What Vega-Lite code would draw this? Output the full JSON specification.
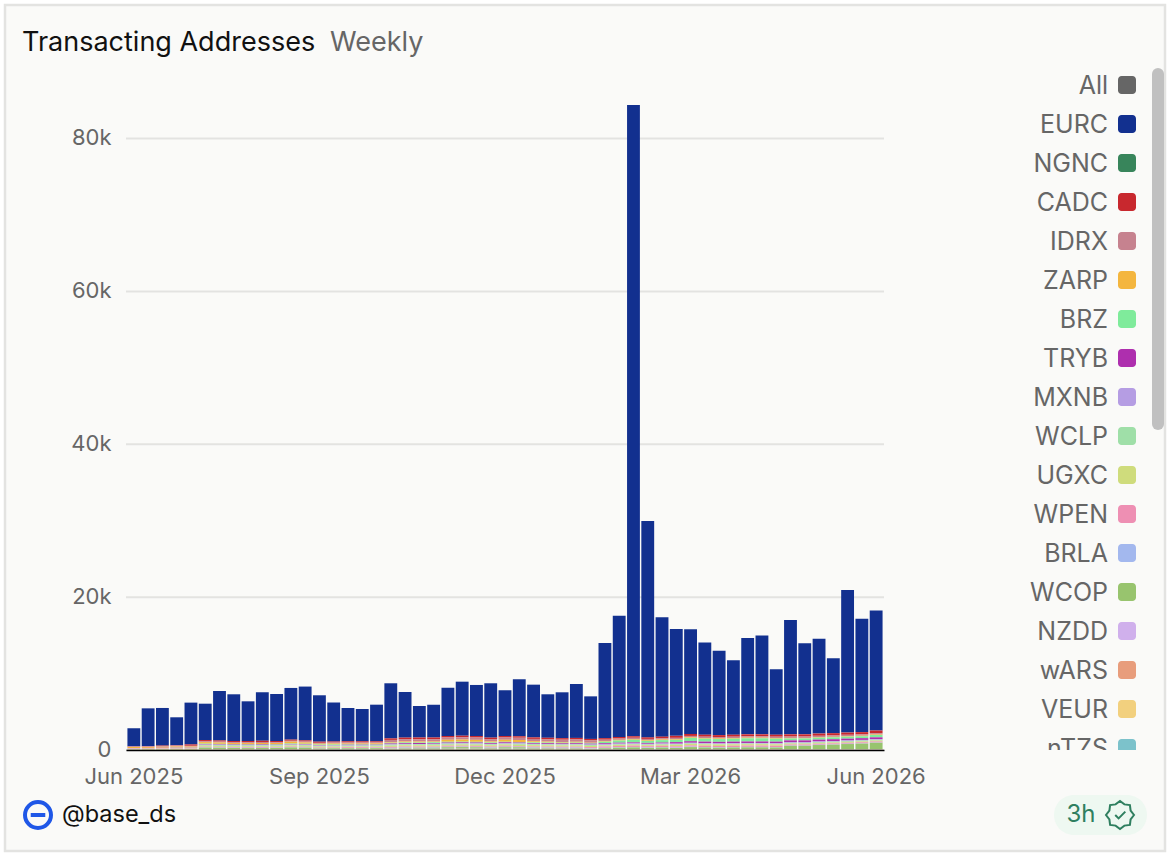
{
  "$schema": "https://vega.github.io/schema/vega-lite/v6.json",
  "background": "#ffffff",
  "padding": 5,
  "autosize": {"type": "none"},
  "width": 1160,
  "height": 846,
  "view": {"fill": "#fafaf8", "stroke": "#e3e3e1", "strokeWidth": 2.5},
  "datasets": {
    "weeks": [
      {"w":"2025-06-02","EURC":2340,"CADC":40,"IDRX":80,"ZARP":110,"TRYB":20,"MXNB":20,"WCLP":20,"UGXC":30,"WPEN":50,"BRLA":10,"WCOP":70,"NZDD":10,"wARS":10,"VEUR":30},
      {"w":"2025-06-09","EURC":4930,"CADC":50,"IDRX":90,"ZARP":110,"TRYB":20,"MXNB":20,"WCLP":20,"UGXC":30,"WPEN":50,"BRLA":10,"WCOP":70,"NZDD":10,"wARS":10,"VEUR":30},
      {"w":"2025-06-16","EURC":4920,"CADC":60,"IDRX":100,"ZARP":120,"TRYB":30,"MXNB":20,"WCLP":30,"UGXC":30,"WPEN":60,"BRLA":10,"WCOP":70,"NZDD":10,"wARS":10,"VEUR":30},
      {"w":"2025-06-23","EURC":3650,"CADC":60,"IDRX":110,"ZARP":130,"TRYB":30,"MXNB":20,"WCLP":30,"UGXC":40,"WPEN":60,"BRLA":10,"WCOP":80,"NZDD":10,"wARS":10,"VEUR":40},
      {"w":"2025-06-30","EURC":5470,"CADC":180,"IDRX":100,"ZARP":120,"TRYB":30,"MXNB":20,"WCLP":30,"UGXC":40,"WPEN":60,"BRLA":10,"WCOP":80,"NZDD":10,"wARS":10,"VEUR":40},
      {"w":"2025-07-07","EURC":4760,"CADC":150,"IDRX":120,"ZARP":200,"BRZ":60,"TRYB":60,"MXNB":50,"WCLP":100,"UGXC":120,"WPEN":80,"BRLA":40,"WCOP":190,"NZDD":30,"wARS":30,"VEUR":50,"nTZS":20},
      {"w":"2025-07-14","EURC":6470,"CADC":150,"IDRX":120,"ZARP":175,"BRZ":60,"TRYB":60,"MXNB":50,"WCLP":100,"UGXC":120,"WPEN":80,"BRLA":40,"WCOP":165,"NZDD":30,"wARS":30,"VEUR":50,"nTZS":20},
      {"w":"2025-07-21","EURC":6110,"CADC":150,"IDRX":120,"ZARP":140,"BRZ":60,"TRYB":60,"MXNB":50,"WCLP":100,"UGXC":120,"WPEN":80,"BRLA":40,"WCOP":130,"NZDD":30,"wARS":30,"VEUR":50,"nTZS":20},
      {"w":"2025-07-28","EURC":5190,"CADC":150,"IDRX":120,"ZARP":150,"BRZ":60,"TRYB":60,"MXNB":50,"WCLP":100,"UGXC":120,"WPEN":80,"BRLA":40,"WCOP":120,"NZDD":30,"wARS":30,"VEUR":50,"nTZS":20},
      {"w":"2025-08-04","EURC":6350,"CADC":150,"IDRX":120,"ZARP":160,"BRZ":60,"TRYB":60,"MXNB":50,"WCLP":100,"UGXC":120,"WPEN":80,"BRLA":40,"WCOP":130,"NZDD":30,"wARS":30,"VEUR":50,"nTZS":20},
      {"w":"2025-08-11","EURC":6160,"CADC":150,"IDRX":120,"ZARP":140,"BRZ":60,"TRYB":60,"MXNB":50,"WCLP":100,"UGXC":120,"WPEN":80,"BRLA":40,"WCOP":120,"NZDD":30,"wARS":30,"VEUR":50,"nTZS":20},
      {"w":"2025-08-18","EURC":6760,"CADC":150,"IDRX":120,"ZARP":240,"BRZ":60,"TRYB":60,"MXNB":50,"WCLP":100,"UGXC":120,"WPEN":80,"BRLA":40,"WCOP":210,"NZDD":30,"wARS":30,"VEUR":50,"nTZS":20},
      {"w":"2025-08-25","EURC":7040,"CADC":150,"IDRX":120,"ZARP":170,"BRZ":60,"TRYB":60,"MXNB":50,"WCLP":100,"UGXC":120,"WPEN":80,"BRLA":40,"WCOP":180,"NZDD":30,"wARS":30,"VEUR":50,"nTZS":20},
      {"w":"2025-09-01","EURC":6070,"CADC":150,"IDRX":120,"ZARP":110,"BRZ":60,"TRYB":60,"MXNB":50,"WCLP":100,"UGXC":120,"WPEN":80,"BRLA":40,"WCOP":70,"NZDD":30,"wARS":30,"VEUR":50,"nTZS":20},
      {"w":"2025-09-08","EURC":5080,"CADC":150,"IDRX":120,"ZARP":120,"BRZ":60,"TRYB":60,"MXNB":50,"WCLP":100,"UGXC":120,"WPEN":80,"BRLA":40,"WCOP":90,"NZDD":30,"wARS":30,"VEUR":50,"nTZS":20},
      {"w":"2025-09-15","EURC":4370,"CADC":150,"IDRX":120,"ZARP":120,"BRZ":60,"TRYB":60,"MXNB":50,"WCLP":100,"UGXC":120,"WPEN":80,"BRLA":40,"WCOP":100,"NZDD":30,"wARS":30,"VEUR":50,"nTZS":20},
      {"w":"2025-09-22","EURC":4240,"CADC":150,"IDRX":120,"ZARP":120,"BRZ":60,"TRYB":60,"MXNB":50,"WCLP":100,"UGXC":120,"WPEN":80,"BRLA":40,"WCOP":100,"NZDD":30,"wARS":30,"VEUR":50,"nTZS":20},
      {"w":"2025-09-29","EURC":4790,"CADC":150,"IDRX":120,"ZARP":120,"BRZ":60,"TRYB":60,"MXNB":50,"WCLP":100,"UGXC":120,"WPEN":80,"BRLA":40,"WCOP":110,"NZDD":30,"wARS":30,"VEUR":50,"nTZS":20},
      {"w":"2025-10-06","EURC":7210,"CADC":200,"IDRX":300,"ZARP":80,"BRZ":80,"TRYB":110,"MXNB":60,"WCLP":120,"UGXC":160,"WPEN":120,"BRLA":60,"WCOP":60,"NZDD":30,"wARS":50,"VEUR":60,"nTZS":30},
      {"w":"2025-10-13","EURC":5970,"CADC":200,"IDRX":300,"ZARP":130,"BRZ":80,"TRYB":110,"MXNB":60,"WCLP":120,"UGXC":160,"WPEN":120,"BRLA":60,"WCOP":110,"NZDD":30,"wARS":50,"VEUR":60,"nTZS":30},
      {"w":"2025-10-20","EURC":4140,"CADC":200,"IDRX":300,"ZARP":130,"BRZ":80,"TRYB":110,"MXNB":60,"WCLP":120,"UGXC":160,"WPEN":120,"BRLA":60,"WCOP":110,"NZDD":30,"wARS":50,"VEUR":60,"nTZS":30},
      {"w":"2025-10-27","EURC":4310,"CADC":200,"IDRX":300,"ZARP":120,"BRZ":80,"TRYB":110,"MXNB":60,"WCLP":120,"UGXC":160,"WPEN":120,"BRLA":60,"WCOP":120,"NZDD":30,"wARS":50,"VEUR":60,"nTZS":30},
      {"w":"2025-11-03","EURC":6330,"CADC":200,"IDRX":300,"ZARP":260,"BRZ":80,"TRYB":110,"MXNB":60,"WCLP":120,"UGXC":160,"WPEN":120,"BRLA":60,"WCOP":190,"NZDD":30,"wARS":50,"VEUR":60,"nTZS":30},
      {"w":"2025-11-10","EURC":7070,"CADC":200,"IDRX":300,"ZARP":280,"BRZ":80,"TRYB":110,"MXNB":60,"WCLP":120,"UGXC":160,"WPEN":120,"BRLA":60,"WCOP":210,"NZDD":30,"wARS":50,"VEUR":60,"nTZS":30},
      {"w":"2025-11-17","EURC":6680,"CADC":200,"IDRX":300,"ZARP":260,"BRZ":80,"TRYB":110,"MXNB":60,"WCLP":120,"UGXC":160,"WPEN":120,"BRLA":60,"WCOP":190,"NZDD":30,"wARS":50,"VEUR":60,"nTZS":30},
      {"w":"2025-11-24","EURC":7110,"CADC":200,"IDRX":300,"ZARP":130,"BRZ":80,"TRYB":110,"MXNB":60,"WCLP":120,"UGXC":160,"WPEN":120,"BRLA":60,"WCOP":110,"NZDD":30,"wARS":50,"VEUR":60,"nTZS":30},
      {"w":"2025-12-01","EURC":5980,"CADC":200,"IDRX":300,"ZARP":250,"BRZ":80,"TRYB":110,"MXNB":60,"WCLP":120,"UGXC":160,"WPEN":120,"BRLA":60,"WCOP":200,"NZDD":30,"wARS":50,"VEUR":60,"nTZS":30},
      {"w":"2025-12-08","EURC":7450,"CADC":200,"IDRX":300,"ZARP":240,"BRZ":80,"TRYB":110,"MXNB":60,"WCLP":120,"UGXC":160,"WPEN":120,"BRLA":60,"WCOP":180,"NZDD":30,"wARS":50,"VEUR":60,"nTZS":30},
      {"w":"2025-12-15","EURC":6900,"CADC":200,"IDRX":300,"ZARP":150,"BRZ":80,"TRYB":110,"MXNB":60,"WCLP":120,"UGXC":160,"WPEN":120,"BRLA":60,"WCOP":120,"NZDD":30,"wARS":50,"VEUR":60,"nTZS":30},
      {"w":"2025-12-22","EURC":5690,"CADC":200,"IDRX":300,"ZARP":120,"BRZ":80,"TRYB":110,"MXNB":60,"WCLP":120,"UGXC":160,"WPEN":120,"BRLA":60,"WCOP":100,"NZDD":30,"wARS":50,"VEUR":60,"nTZS":30},
      {"w":"2025-12-29","EURC":6000,"CADC":200,"IDRX":300,"ZARP":90,"BRZ":80,"TRYB":110,"MXNB":60,"WCLP":120,"UGXC":160,"WPEN":120,"BRLA":60,"WCOP":80,"NZDD":30,"wARS":50,"VEUR":60,"nTZS":30},
      {"w":"2026-01-05","EURC":7060,"CADC":200,"IDRX":300,"ZARP":110,"BRZ":80,"TRYB":110,"MXNB":60,"WCLP":120,"UGXC":160,"WPEN":120,"BRLA":60,"WCOP":90,"NZDD":30,"wARS":50,"VEUR":60,"nTZS":30},
      {"w":"2026-01-12","EURC":5570,"CADC":200,"IDRX":300,"ZARP":40,"BRZ":80,"TRYB":110,"MXNB":60,"WCLP":120,"UGXC":160,"WPEN":120,"BRLA":60,"WCOP":30,"NZDD":30,"wARS":50,"VEUR":60,"nTZS":30},
      {"w":"2026-01-19","EURC":12450,"CADC":200,"IDRX":170,"ZARP":90,"BRZ":200,"TRYB":120,"MXNB":100,"WCLP":80,"UGXC":130,"WPEN":170,"BRLA":60,"WCOP":100,"NZDD":20,"wARS":40,"VEUR":40,"nTZS":30},
      {"w":"2026-01-26","EURC":15880,"CADC":200,"IDRX":170,"ZARP":90,"BRZ":280,"TRYB":120,"MXNB":100,"WCLP":80,"UGXC":130,"WPEN":170,"BRLA":60,"WCOP":170,"NZDD":20,"wARS":40,"VEUR":40,"nTZS":30},
      {"w":"2026-02-02","EURC":82600,"CADC":200,"IDRX":170,"ZARP":90,"BRZ":340,"TRYB":120,"MXNB":100,"WCLP":80,"UGXC":130,"WPEN":170,"BRLA":60,"WCOP":210,"NZDD":20,"wARS":40,"VEUR":40,"nTZS":30},
      {"w":"2026-02-09","EURC":28320,"CADC":200,"IDRX":170,"ZARP":90,"BRZ":260,"TRYB":120,"MXNB":100,"WCLP":80,"UGXC":130,"WPEN":170,"BRLA":60,"WCOP":140,"NZDD":20,"wARS":40,"VEUR":40,"nTZS":30},
      {"w":"2026-02-16","EURC":15610,"CADC":200,"IDRX":170,"ZARP":90,"BRZ":310,"TRYB":120,"MXNB":100,"WCLP":80,"UGXC":130,"WPEN":170,"BRLA":60,"WCOP":190,"NZDD":20,"wARS":40,"VEUR":40,"nTZS":30},
      {"w":"2026-02-23","EURC":13990,"CADC":260,"IDRX":170,"ZARP":90,"BRZ":300,"TRYB":200,"MXNB":80,"WCLP":80,"UGXC":180,"WPEN":170,"BRLA":60,"WCOP":130,"NZDD":20,"wARS":40,"VEUR":40,"nTZS":30},
      {"w":"2026-03-02","EURC":13690,"CADC":260,"IDRX":170,"ZARP":90,"BRZ":430,"TRYB":200,"MXNB":80,"WCLP":80,"UGXC":180,"WPEN":170,"BRLA":60,"WCOP":250,"NZDD":20,"wARS":40,"VEUR":40,"nTZS":30},
      {"w":"2026-03-09","EURC":12050,"CADC":260,"IDRX":170,"ZARP":90,"BRZ":380,"TRYB":200,"MXNB":80,"WCLP":80,"UGXC":180,"WPEN":170,"BRLA":60,"WCOP":200,"NZDD":20,"wARS":40,"VEUR":40,"nTZS":30},
      {"w":"2026-03-16","EURC":11050,"CADC":260,"IDRX":170,"ZARP":90,"BRZ":360,"TRYB":200,"MXNB":80,"WCLP":80,"UGXC":180,"WPEN":170,"BRLA":60,"WCOP":170,"NZDD":20,"wARS":40,"VEUR":40,"nTZS":30},
      {"w":"2026-03-23","EURC":9740,"CADC":260,"IDRX":170,"ZARP":90,"BRZ":380,"TRYB":200,"MXNB":80,"WCLP":80,"UGXC":180,"WPEN":170,"BRLA":60,"WCOP":200,"NZDD":20,"wARS":40,"VEUR":40,"nTZS":30},
      {"w":"2026-03-30","EURC":12610,"CADC":260,"IDRX":170,"ZARP":90,"BRZ":410,"TRYB":200,"MXNB":80,"WCLP":80,"UGXC":180,"WPEN":170,"BRLA":60,"WCOP":220,"NZDD":20,"wARS":40,"VEUR":40,"nTZS":30},
      {"w":"2026-04-06","EURC":12920,"CADC":260,"IDRX":170,"ZARP":90,"BRZ":410,"TRYB":200,"MXNB":80,"WCLP":80,"UGXC":180,"WPEN":170,"BRLA":60,"WCOP":220,"NZDD":20,"wARS":40,"VEUR":40,"nTZS":30},
      {"w":"2026-04-13","EURC":8560,"CADC":260,"IDRX":170,"ZARP":90,"BRZ":380,"TRYB":200,"MXNB":80,"WCLP":80,"UGXC":180,"WPEN":170,"BRLA":60,"WCOP":200,"NZDD":20,"wARS":40,"VEUR":40,"nTZS":30},
      {"w":"2026-04-20","EURC":14970,"CADC":290,"IDRX":180,"ZARP":70,"BRZ":250,"TRYB":230,"MXNB":90,"WCLP":100,"UGXC":120,"WPEN":130,"BRLA":40,"WCOP":420,"NZDD":20,"wARS":40,"VEUR":40,"nTZS":30},
      {"w":"2026-04-27","EURC":11910,"CADC":290,"IDRX":180,"ZARP":70,"BRZ":250,"TRYB":230,"MXNB":90,"WCLP":100,"UGXC":120,"WPEN":130,"BRLA":40,"WCOP":420,"NZDD":20,"wARS":40,"VEUR":40,"nTZS":30},
      {"w":"2026-05-04","EURC":12420,"CADC":290,"IDRX":180,"ZARP":70,"BRZ":250,"TRYB":230,"MXNB":90,"WCLP":100,"UGXC":120,"WPEN":130,"BRLA":40,"WCOP":520,"NZDD":20,"wARS":40,"VEUR":40,"nTZS":30},
      {"w":"2026-05-11","EURC":9800,"CADC":290,"IDRX":180,"ZARP":70,"BRZ":250,"TRYB":230,"MXNB":90,"WCLP":100,"UGXC":120,"WPEN":130,"BRLA":40,"WCOP":570,"NZDD":20,"wARS":40,"VEUR":40,"nTZS":30},
      {"w":"2026-05-18","EURC":18660,"CADC":290,"IDRX":180,"ZARP":70,"BRZ":250,"TRYB":230,"MXNB":90,"WCLP":100,"UGXC":120,"WPEN":130,"BRLA":40,"WCOP":650,"NZDD":20,"wARS":40,"VEUR":40,"nTZS":30},
      {"w":"2026-05-25","EURC":14850,"CADC":290,"IDRX":180,"ZARP":70,"BRZ":250,"TRYB":230,"MXNB":90,"WCLP":100,"UGXC":120,"WPEN":130,"BRLA":40,"WCOP":710,"NZDD":20,"wARS":40,"VEUR":40,"nTZS":30},
      {"w":"2026-06-01","EURC":15690,"CADC":340,"IDRX":180,"ZARP":70,"BRZ":300,"TRYB":230,"MXNB":90,"WCLP":100,"UGXC":120,"WPEN":130,"BRLA":40,"WCOP":820,"NZDD":20,"wARS":40,"VEUR":40,"nTZS":30}
    ],
    "legendRows": [
      {"name":"All","rank":0},{"name":"EURC","rank":1},{"name":"NGNC","rank":2},{"name":"CADC","rank":3},
      {"name":"IDRX","rank":4},{"name":"ZARP","rank":5},{"name":"BRZ","rank":6},{"name":"TRYB","rank":7},
      {"name":"MXNB","rank":8},{"name":"WCLP","rank":9},{"name":"UGXC","rank":10},{"name":"WPEN","rank":11},
      {"name":"BRLA","rank":12},{"name":"WCOP","rank":13},{"name":"NZDD","rank":14},{"name":"wARS","rank":15},
      {"name":"VEUR","rank":16},{"name":"nTZS","rank":17}
    ]
  },
  "resolve": {"scale": {"x": "independent", "y": "independent", "color": "independent"}},
  "layer": [
    {
      "data": {"values": [{"v": 0}, {"v": 20000}, {"v": 40000}, {"v": 60000}, {"v": 80000}]},
      "mark": {"type": "rule", "color": "#e3e3e1", "strokeWidth": 2},
      "encoding": {
        "x": {"datum": 0, "type": "quantitative", "axis": null, "scale": {"domain": [0, 1], "range": [121, 879]}},
        "x2": {"datum": 1},
        "y": {
          "field": "v", "type": "quantitative", "title": null,
          "scale": {"domain": [0, 89500], "nice": false, "range": [745, 61]},
          "axis": {
            "values": [0, 20000, 40000, 60000, 80000],
            "labelExpr": "datum.value == 0 ? '0' : (datum.value / 1000) + 'k'",
            "offset": -121,
            "labelFontSize": 22, "labelColor": "#666666", "labelPadding": 15, "labelOffset": -1,
            "domain": false, "ticks": false, "grid": false
          }
        }
      }
    },
    {
      "data": {"name": "weeks"},
      "transform": [
        {"fold": ["EURC","NGNC","CADC","IDRX","ZARP","BRZ","TRYB","MXNB","WCLP","UGXC","WPEN","BRLA","WCOP","NZDD","wARS","VEUR","nTZS"], "as": ["series", "addresses"]},
        {"filter": "isValid(datum.addresses)"},
        {"calculate": "indexof(['nTZS','VEUR','wARS','NZDD','WCOP','BRLA','WPEN','UGXC','WCLP','MXNB','TRYB','BRZ','ZARP','IDRX','CADC','NGNC','EURC'], datum.series)", "as": "stackRank"}
      ],
      "mark": {"type": "bar"},
      "encoding": {
        "x": {
          "field": "w", "type": "ordinal", "title": null,
          "scale": {"range": [121, 879], "paddingInner": 0.1, "paddingOuter": 0.1},
          "axis": {
            "values": ["2025-06-02", "2025-09-01", "2025-12-01", "2026-03-02", "2026-06-01"],
            "labelExpr": "timeFormat(toDate(datum.value + 'T12:00:00'), '%b %Y')",
            "offset": -101,
            "labelAngle": 0, "labelFontSize": 22, "labelColor": "#666666", "labelPadding": 16,
            "labelOverlap": false, "labelBound": false, "labelFlush": false,
            "ticks": false, "domainColor": "#000000", "domainWidth": 1.5, "zindex": 1
          }
        },
        "y": {
          "field": "addresses", "type": "quantitative", "axis": null, "stack": "zero",
          "scale": {"domain": [0, 89500], "nice": false, "range": [745, 61]}
        },
        "color": {
          "field": "series", "type": "nominal", "legend": null,
          "scale": {
            "domain": ["EURC","NGNC","CADC","IDRX","ZARP","BRZ","TRYB","MXNB","WCLP","UGXC","WPEN","BRLA","WCOP","NZDD","wARS","VEUR","nTZS"],
            "range": ["#12308f","#38855b","#c8282e","#c6828f","#f4b63f","#7feb9b","#ae2fae","#b59de3","#9fdfa8","#cfdc7c","#ee8fb3","#a3b8ee","#98c46e","#d0b0ec","#e89d7c","#f2d07e","#7cc2cb"]
          }
        },
        "order": {"field": "stackRank", "type": "quantitative"}
      }
    },
    {
      "data": {"name": "legendRows"},
      "mark": {"type": "text", "align": "right", "baseline": "middle", "fontSize": 25, "dy": 1, "color": "#666666"},
      "encoding": {
        "x": {"datum": "label", "type": "nominal", "axis": null,
          "scale": {"type": "point", "padding": 0, "domain": ["label", "swatch"], "range": [1103, 1122]}},
        "y": {"field": "rank", "type": "quantitative", "axis": null,
          "scale": {"domain": [-0.487, 17.05], "nice": false, "zero": false, "range": [61, 745]}},
        "text": {"field": "name"}
      }
    },
    {
      "data": {"name": "legendRows"},
      "mark": {"type": "point", "filled": true, "opacity": 1, "size": 1296,
        "shape": "M-0.3,-0.5H0.3A0.2,0.2,0,0,1,0.5,-0.3V0.3A0.2,0.2,0,0,1,0.3,0.5H-0.3A0.2,0.2,0,0,1,-0.5,0.3V-0.3A0.2,0.2,0,0,1,-0.3,-0.5Z"},
      "encoding": {
        "x": {"datum": "swatch", "type": "nominal", "axis": null,
          "scale": {"type": "point", "padding": 0, "domain": ["label", "swatch"], "range": [1103, 1122]}},
        "y": {"field": "rank", "type": "quantitative", "axis": null,
          "scale": {"domain": [-0.487, 17.05], "nice": false, "zero": false, "range": [61, 745]}},
        "color": {
          "field": "name", "type": "nominal", "legend": null,
          "scale": {
            "domain": ["All","EURC","NGNC","CADC","IDRX","ZARP","BRZ","TRYB","MXNB","WCLP","UGXC","WPEN","BRLA","WCOP","NZDD","wARS","VEUR","nTZS"],
            "range": ["#666666","#12308f","#38855b","#c8282e","#c6828f","#f4b63f","#7feb9b","#ae2fae","#b59de3","#9fdfa8","#cfdc7c","#ee8fb3","#a3b8ee","#98c46e","#d0b0ec","#e89d7c","#f2d07e","#7cc2cb"]
          }
        }
      }
    },
    {
      "data": {"values": [{"from": -0.28, "to": 8.69}]},
      "mark": {"type": "rule", "color": "#c0c0c0", "strokeWidth": 12, "strokeCap": "round"},
      "encoding": {
        "x": {"datum": "thumb", "type": "nominal", "axis": null,
          "scale": {"type": "point", "padding": 0, "domain": ["thumb"], "range": [1153, 1153]}},
        "y": {"field": "from", "type": "quantitative", "axis": null,
          "scale": {"domain": [-0.487, 17.05], "nice": false, "zero": false, "range": [61, 745]}},
        "y2": {"field": "to"}
      }
    },
    {
      "data": {"values": [{"left": 0, "right": 1, "top": 0, "bottom": 1}]},
      "mark": {"type": "rect", "color": "#fafaf8"},
      "encoding": {
        "x": {"field": "left", "type": "quantitative", "axis": null, "scale": {"domain": [0, 1], "range": [1015, 1146]}},
        "x2": {"field": "right"},
        "y": {"field": "top", "type": "quantitative", "axis": null, "scale": {"domain": [0, 1], "range": [745, 785]}},
        "y2": {"field": "bottom"}
      }
    },
    {
      "data": {"values": [{"t": "Transacting Addresses"}, {"t": "Weekly"}]},
      "mark": {"type": "text", "align": "left", "fontSize": 27, "baseline": "middle"},
      "encoding": {
        "x": {"field": "t", "type": "nominal", "axis": null,
          "scale": {"type": "point", "padding": 0, "domain": ["Transacting Addresses", "Weekly"], "range": [17, 325]}},
        "y": {"datum": "header", "type": "nominal", "axis": null,
          "scale": {"type": "point", "padding": 0, "domain": ["header"], "range": [38, 38]}},
        "text": {"field": "t"},
        "color": {"field": "t", "legend": null,
          "scale": {"domain": ["Transacting Addresses", "Weekly"], "range": ["#111111", "#666666"]}}
      }
    },
    {
      "data": {"values": [{"item": "logo"}]},
      "mark": {"type": "point", "filled": false, "color": "#1f57e7", "opacity": 1, "strokeWidth": 4, "size": 2704,
        "shape": "M-0.5,0A0.5,0.5,0,1,1,0.5,0A0.5,0.5,0,1,1,-0.5,0ZM-0.28,0H0.28"},
      "encoding": {
        "x": {"field": "item", "type": "nominal", "axis": null,
          "scale": {"type": "point", "padding": 0, "domain": ["logo", "handle"], "range": [33, 57]}},
        "y": {"datum": "footer", "type": "nominal", "axis": null,
          "scale": {"type": "point", "padding": 0, "domain": ["footer"], "range": [810, 810]}}
      }
    },
    {
      "data": {"values": [{"item": "handle", "text": "@base_ds"}]},
      "mark": {"type": "text", "align": "left", "baseline": "middle", "fontSize": 23.5, "color": "#111111"},
      "encoding": {
        "x": {"field": "item", "type": "nominal", "axis": null,
          "scale": {"type": "point", "padding": 0, "domain": ["logo", "handle"], "range": [33, 57]}},
        "y": {"datum": "footer", "type": "nominal", "axis": null,
          "scale": {"type": "point", "padding": 0, "domain": ["footer"], "range": [810, 810]}},
        "text": {"field": "text"}
      }
    },
    {
      "data": {"values": [{"item": "pill"}]},
      "mark": {"type": "point", "filled": true, "color": "#eef8f1", "opacity": 1, "size": 34596,
        "shape": "M-0.285,-0.215H0.285A0.215,0.215,0,0,1,0.285,0.215H-0.285A0.215,0.215,0,0,1,-0.285,-0.215Z"},
      "encoding": {
        "x": {"field": "item", "type": "nominal", "axis": null,
          "scale": {"type": "point", "padding": 0, "domain": ["age", "pill", "check"], "range": [1076, 1115]}},
        "y": {"datum": "footer", "type": "nominal", "axis": null,
          "scale": {"type": "point", "padding": 0, "domain": ["footer"], "range": [810, 810]}}
      }
    },
    {
      "data": {"values": [{"item": "age", "text": "3h"}]},
      "mark": {"type": "text", "align": "center", "baseline": "middle", "fontSize": 24, "color": "#2f7f5f"},
      "encoding": {
        "x": {"field": "item", "type": "nominal", "axis": null,
          "scale": {"type": "point", "padding": 0, "domain": ["age", "pill", "check"], "range": [1076, 1115]}},
        "y": {"datum": "footer", "type": "nominal", "axis": null,
          "scale": {"type": "point", "padding": 0, "domain": ["footer"], "range": [810, 810]}},
        "text": {"field": "text"}
      }
    },
    {
      "data": {"values": [{"item": "check"}]},
      "mark": {"type": "point", "filled": false, "color": "#2f7f5f", "opacity": 1, "strokeWidth": 2, "size": 3136,
        "shape": "M0.5,0L0.379,0.157L0.354,0.354L0.157,0.379L0,0.5L-0.157,0.379L-0.354,0.354L-0.379,0.157L-0.5,0L-0.379,-0.157L-0.354,-0.354L-0.157,-0.379L0,-0.5L0.157,-0.379L0.354,-0.354L0.379,-0.157ZM-0.17,0L-0.05,0.12L0.19,-0.12"},
      "encoding": {
        "x": {"field": "item", "type": "nominal", "axis": null,
          "scale": {"type": "point", "padding": 0, "domain": ["age", "pill", "check"], "range": [1076, 1115]}},
        "y": {"datum": "footer", "type": "nominal", "axis": null,
          "scale": {"type": "point", "padding": 0, "domain": ["footer"], "range": [810, 810]}}
      }
    }
  ],
  "config": {"font": "Inter"}
}
